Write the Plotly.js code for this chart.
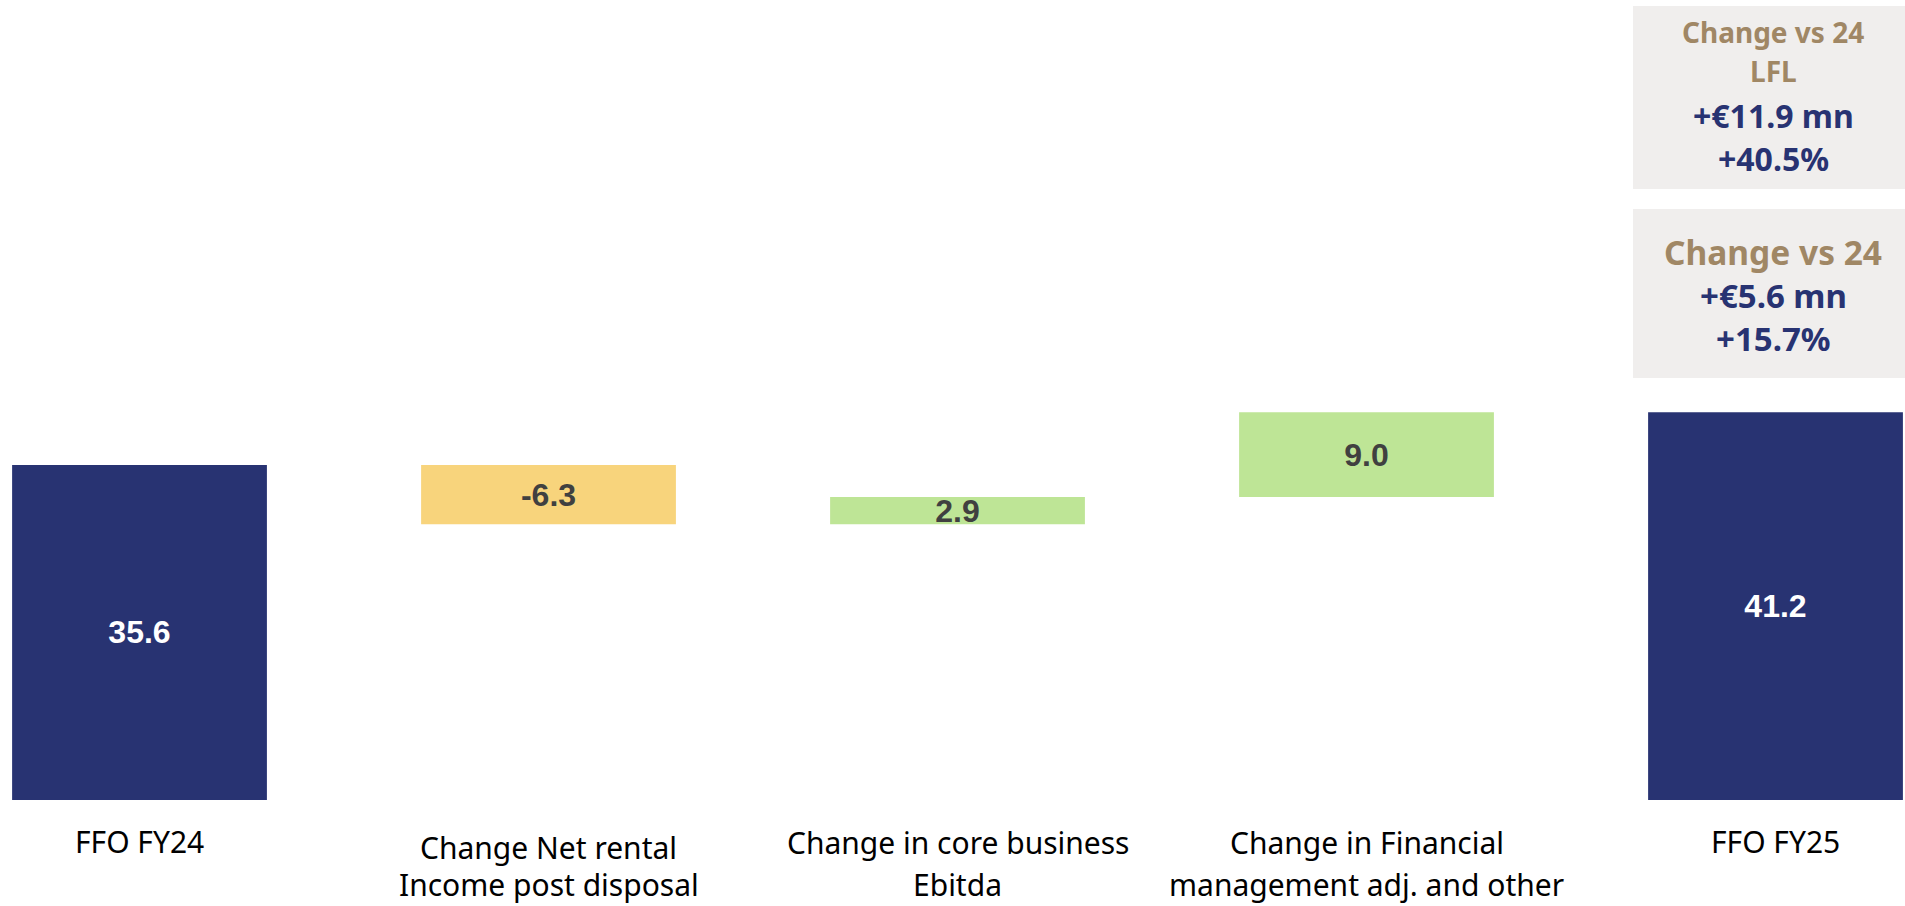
<!DOCTYPE html>
<html>
<head>
<meta charset="utf-8">
<script src="https://cdn.plot.ly/plotly-3.0.1.min.js"></script>
<style>
  html, body { margin: 0; padding: 0; background: #ffffff; }
  #chart { width: 1905px; height: 906px; }
</style>
</head>
<body>
<div id="chart"></div>
<script>
// ---- Data ----
const categories = [
  "FFO FY24",
  "Change Net rental<br>Income post disposal",
  "Change in core business<br>Ebitda",
  "Change in Financial<br>management adj. and other",
  "FFO FY25"
];
const measures = ["absolute", "relative", "relative", "relative", "total"];
const values = [35.6, -6.3, 2.9, 9.0, 41.2];
const valueLabels = ["35.6", "-6.3", "2.9", "9.0", "41.2"];

const boxLflLines = ["Change vs 24", "LFL", "+€11.9 mn", "+40.5%"];
const boxTotalLines = ["Change vs 24", "+€5.6 mn", "+15.7%"];

// ---- Styles ----
const NAVY = "#283372";
const YELLOW = "#F8D47C";
const GREEN = "#BEE596";
const TAN = "#A08765";
const BOXBG = "#F0EEED";
const DARKTXT = "#404040";

const W = 1905, H = 906, PLOT_BOTTOM = 800;
const labelFont = "Noto Sans, Open Sans, sans-serif";
const boxFont = "Noto Sans, Open Sans, sans-serif";

const trace = {
  type: "waterfall",
  x: categories,
  y: values,
  measure: measures,
  text: valueLabels,
  textposition: "inside",
  insidetextanchor: "middle",
  constraintext: "none",
  textangle: 0,
  textfont: {
    family: "Liberation Sans, Arial, sans-serif",
    size: 32,
    weight: "bold",
    color: ["#ffffff", DARKTXT, DARKTXT, DARKTXT, "#ffffff"]
  },
  width: 0.623,
  totals: { marker: { color: NAVY, line: { width: 0 } } },
  increasing: { marker: { color: GREEN, line: { width: 0 } } },
  decreasing: { marker: { color: YELLOW, line: { width: 0 } } },
  connector: { visible: false },
  hoverinfo: "skip",
  showlegend: false
};

const annotations = [];

// category labels, one annotation per line
const firstLineCenter = [841, 847, 842, 842, 841];
const lineGap = [43, 37, 42, 42, 43];
categories.forEach((c, i) => {
  c.split("<br>").forEach((line, j) => {
    const cy = firstLineCenter[i] + j * lineGap[i];
    annotations.push({
      xref: "x", yref: "paper", x: c, y: 0,
      yanchor: "middle", xanchor: "center",
      yshift: -(cy - PLOT_BOTTOM),
      text: line, showarrow: false,
      font: { family: labelFont, size: 30, color: "#000000" }
    });
  });
});

// boxes top right
function px2paperY(py) { return 1 - py / PLOT_BOTTOM; }
function px2paperX(px) { return px / W; }
const shapes = [
  { type: "rect", xref: "paper", yref: "paper",
    x0: px2paperX(1633), x1: 1, y0: px2paperY(189), y1: px2paperY(6),
    fillcolor: BOXBG, line: { width: 0 }, layer: "below" },
  { type: "rect", xref: "paper", yref: "paper",
    x0: px2paperX(1633), x1: 1, y0: px2paperY(378), y1: px2paperY(209),
    fillcolor: BOXBG, line: { width: 0 }, layer: "below" }
];

const textCx = px2paperX(1773);
const box1Centers = [32, 71, 115, 158];
const box1Styles = [
  { color: TAN, size: 28 }, { color: TAN, size: 28 },
  { color: NAVY, size: 32 }, { color: NAVY, size: 32 }
];
boxLflLines.forEach((t, i) => {
  annotations.push({
    xref: "paper", yref: "paper", x: textCx, y: px2paperY(box1Centers[i]),
    xanchor: "center", yanchor: "middle", showarrow: false, text: t,
    font: { family: boxFont, size: box1Styles[i].size, color: box1Styles[i].color, weight: "bold" }
  });
});
const box2Centers = [252, 295, 338];
const box2Styles = [
  { color: TAN, size: 33.5 }, { color: NAVY, size: 33 }, { color: NAVY, size: 33 }
];
boxTotalLines.forEach((t, i) => {
  annotations.push({
    xref: "paper", yref: "paper", x: textCx, y: px2paperY(box2Centers[i]),
    xanchor: "center", yanchor: "middle", showarrow: false, text: t,
    font: { family: boxFont, size: box2Styles[i].size, color: box2Styles[i].color, weight: "bold" }
  });
});

const layout = {
  width: W, height: H,
  margin: { l: 0, r: 0, t: 0, b: H - PLOT_BOTTOM, pad: 0 },
  paper_bgcolor: "#ffffff",
  plot_bgcolor: "#ffffff",
  xaxis: {
    type: "category",
    range: [-0.3411, 4.3166],
    showticklabels: false, showgrid: false, zeroline: false, showline: false,
    ticks: "", fixedrange: true
  },
  yaxis: {
    range: [0, 85.0],
    visible: false, showgrid: false, zeroline: false, fixedrange: true
  },
  shapes: shapes,
  annotations: annotations,
  showlegend: false
};

Plotly.newPlot("chart", [trace], layout, { staticPlot: true, displayModeBar: false });
</script>
</body>
</html>
